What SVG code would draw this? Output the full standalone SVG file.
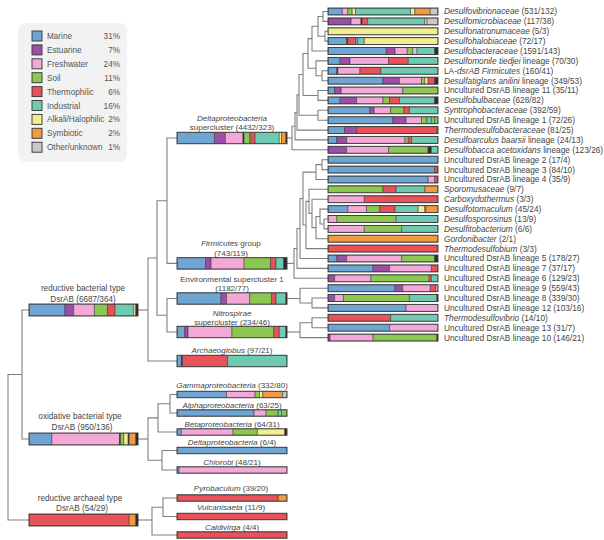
<svg xmlns="http://www.w3.org/2000/svg" width="604" height="540" viewBox="0 0 604 540">
<style>
.M{fill:#6ea5d3}.E{fill:#9d4fa8}.F{fill:#f4a8d8}.S{fill:#8cc751}.T{fill:#e8525a}.I{fill:#6fcab2}.A{fill:#f3ee8d}.Y{fill:#f29a3f}.O{fill:#c9c9c9}.K{fill:#2e2e2e}
.bar rect{height:1px;stroke:#333;stroke-width:0.5;vector-effect:non-scaling-stroke}
.ol{fill:none;stroke:#333;stroke-width:0.9}
.tree path{fill:none;stroke:#808080;stroke-width:1.1}
text{font-family:"Liberation Sans",Arial,sans-serif;fill:#444}
.r{font-size:8.3px}
.c{font-size:8px;text-anchor:middle}
.cl{font-size:8.2px;text-anchor:middle}
.lg{font-size:8.2px;fill:#555}
.pc{font-size:8.2px;fill:#555;text-anchor:end}
.it{font-style:italic}
</style>
<rect width="604" height="540" fill="#fff"/>

<g id="legend">
<rect x="18" y="23" width="109" height="139" rx="8" fill="#f2f2f2"/>
<rect class="ol" x="32" y="31" width="10" height="10" style="fill:#6ea5d3"/><text class="lg" x="47" y="39">Marine</text><text class="pc" x="120" y="39">31%</text>
<rect class="ol" x="32" y="44.9" width="10" height="10" style="fill:#9d4fa8"/><text class="lg" x="47" y="52.9">Estuarine</text><text class="pc" x="120" y="52.9">7%</text>
<rect class="ol" x="32" y="58.8" width="10" height="10" style="fill:#f4a8d8"/><text class="lg" x="47" y="66.8">Freshwater</text><text class="pc" x="120" y="66.8">24%</text>
<rect class="ol" x="32" y="72.7" width="10" height="10" style="fill:#8cc751"/><text class="lg" x="47" y="80.7">Soil</text><text class="pc" x="120" y="80.7">11%</text>
<rect class="ol" x="32" y="86.6" width="10" height="10" style="fill:#e8525a"/><text class="lg" x="47" y="94.6">Thermophilic</text><text class="pc" x="120" y="94.6">6%</text>
<rect class="ol" x="32" y="100.5" width="10" height="10" style="fill:#6fcab2"/><text class="lg" x="47" y="108.5">Industrial</text><text class="pc" x="120" y="108.5">16%</text>
<rect class="ol" x="32" y="114.4" width="10" height="10" style="fill:#f3ee8d"/><text class="lg" x="47" y="122.4">Alkali/Halophilic</text><text class="pc" x="120" y="122.4">2%</text>
<rect class="ol" x="32" y="128.3" width="10" height="10" style="fill:#f29a3f"/><text class="lg" x="47" y="136.3">Symbiotic</text><text class="pc" x="120" y="136.3">2%</text>
<rect class="ol" x="32" y="142.2" width="10" height="10" style="fill:#c9c9c9"/><text class="lg" x="47" y="150.2">Other/unknown</text><text class="pc" x="120" y="150.2">1%</text>
</g>

<g id="connectors" class="tree">
<path d="M328 11.5H323V21.4H328"/>
<path d="M328 31.3H325V41.1H328"/>
<path d="M323 16.45H318V36.2H325"/>
<path d="M318 26.3H312V51H328"/>
<path d="M328 70.8H322V80.7H328"/>
<path d="M328 60.9H316V75.75H322"/>
<path d="M312 38.65H308V68.3H316"/>
<path d="M328 90.5H318V100.4H328"/>
<path d="M308 53.5H303V95.45H318"/>
<path d="M328 110.3H318V120.2H328"/>
<path d="M303 74.5H299V115.25H318"/>
<path d="M299 94.9H297V130.1H328"/>
<path d="M297 112.5H295V139.9H328"/>
<path d="M295 126.2H292V149.8H328"/>
<path d="M287 138H292"/>
<path d="M328 159.7H322V169.6H328"/>
<path d="M322 164.65H316V179.5H328"/>
<path d="M328 219H324V228.9H328"/>
<path d="M328 209.1H320V223.95H324"/>
<path d="M320 216.53H316V238.7H328"/>
<path d="M328 199.2H312V227.6H316"/>
<path d="M328 189.3H309V213.4H312"/>
<path d="M309 201.35H306V248.6H328"/>
<path d="M316 172.08H303V224.98H306"/>
<path d="M303 198.53H300V258.5H328"/>
<path d="M300 228.5H297V268.4H328"/>
<path d="M297 248.45H294V278.3H328"/>
<path d="M287 263.4H294"/>
<path d="M328 298H312V307.9H328"/>
<path d="M328 288.2H300V302.95H312"/>
<path d="M287 298.5H300"/>
<path d="M328 317.8H312V327.7H328"/>
<path d="M312 322.75H300V337.6H328"/>
<path d="M287 332H300"/>
<path d="M177 138H167V263.4H177"/>
<path d="M177 298.5H167V332H177"/>
<path d="M167 200.7H157V315.25H167"/>
<path d="M157 258H148V361H177"/>
<path d="M138 310H148"/>
<path d="M177 394.5H170V413H177"/>
<path d="M170 403.75H158V432H177"/>
<path d="M177 450.5H162V470H177"/>
<path d="M158 417.9H148V460.25H162"/>
<path d="M138 439H148"/>
<path d="M177 498H163V516.5H177"/>
<path d="M163 507.25H152V535H177"/>
<path d="M138 520H152"/>
<path d="M29 310H22V439H29"/>
<path d="M22 374.5H8V520H29"/>
</g>

<g id="r1"><svg class="bar" x="328" y="8" width="110" height="7" viewBox="0 0 100 1" preserveAspectRatio="none"><rect class="M" x="0" width="13"/><rect class="F" x="13" width="5"/><rect class="S" x="18" width="4"/><rect class="A" x="22" width="3"/><rect class="I" x="25" width="50"/><rect class="A" x="75" width="4"/><rect class="Y" x="79" width="14"/><rect class="O" x="93" width="7"/></svg><rect class="ol" x="328" y="8" width="110" height="7"/><text class="r" x="444" y="14.4"><tspan class="it">Desulfovibrionaceae</tspan> (531/132)</text></g>
<g id="r2"><svg class="bar" x="328" y="17.9" width="110" height="7" viewBox="0 0 100 1" preserveAspectRatio="none"><rect class="E" x="0" width="21"/><rect class="F" x="21" width="9"/><rect class="K" x="30" width="1"/><rect class="T" x="31" width="5"/><rect class="I" x="36" width="52"/><rect class="A" x="88" width="2"/><rect class="O" x="90" width="10"/></svg><rect class="ol" x="328" y="17.9" width="110" height="7"/><text class="r" x="444" y="24.3"><tspan class="it">Desulfomicrobiaceae</tspan> (117/38)</text></g>
<g id="r3"><svg class="bar" x="328" y="27.8" width="110" height="7" viewBox="0 0 100 1" preserveAspectRatio="none"><rect class="A" x="0" width="100"/></svg><rect class="ol" x="328" y="27.8" width="110" height="7"/><text class="r" x="444" y="34.2"><tspan class="it">Desulfonatronumaceae</tspan> (5/3)</text></g>
<g id="r4"><svg class="bar" x="328" y="37.6" width="110" height="7" viewBox="0 0 100 1" preserveAspectRatio="none"><rect class="M" x="0" width="17"/><rect class="K" x="17" width="1"/><rect class="T" x="18" width="7"/><rect class="M" x="25" width="2"/><rect class="I" x="27" width="6"/><rect class="A" x="33" width="67"/></svg><rect class="ol" x="328" y="37.6" width="110" height="7"/><text class="r" x="444" y="44"><tspan class="it">Desulfohalobiaceae</tspan> (72/17)</text></g>
<g id="r5"><svg class="bar" x="328" y="47.5" width="110" height="7" viewBox="0 0 100 1" preserveAspectRatio="none"><rect class="M" x="0" width="53"/><rect class="E" x="53" width="8"/><rect class="F" x="61" width="11"/><rect class="S" x="72" width="5"/><rect class="O" x="77" width="4"/><rect class="I" x="81" width="16"/><rect class="K" x="97" width="3"/></svg><rect class="ol" x="328" y="47.5" width="110" height="7"/><text class="r" x="444" y="53.9"><tspan class="it">Desulfobacteraceae</tspan> (1591/143)</text></g>
<g id="r6"><svg class="bar" x="328" y="57.4" width="110" height="7" viewBox="0 0 100 1" preserveAspectRatio="none"><rect class="M" x="0" width="11"/><rect class="E" x="11" width="9"/><rect class="F" x="20" width="35"/><rect class="T" x="55" width="18"/><rect class="I" x="73" width="27"/></svg><rect class="ol" x="328" y="57.4" width="110" height="7"/><text class="r" x="444" y="63.8"><tspan class="it">Desulfomonile tiedjei</tspan> lineage (70/30)</text></g>
<g id="r7"><svg class="bar" x="328" y="67.3" width="110" height="7" viewBox="0 0 100 1" preserveAspectRatio="none"><rect class="M" x="0" width="8"/><rect class="K" x="8" width="1"/><rect class="F" x="9" width="20"/><rect class="T" x="29" width="19"/><rect class="I" x="48" width="52"/></svg><rect class="ol" x="328" y="67.3" width="110" height="7"/><text class="r" x="444" y="73.7">LA-<tspan class="it">dsrAB Firmicutes</tspan> (160/41)</text></g>
<g id="r8"><svg class="bar" x="328" y="77.2" width="110" height="7" viewBox="0 0 100 1" preserveAspectRatio="none"><rect class="M" x="0" width="50"/><rect class="E" x="50" width="15"/><rect class="F" x="65" width="20"/><rect class="S" x="85" width="3"/><rect class="A" x="88" width="3"/><rect class="T" x="91" width="6"/><rect class="K" x="97" width="3"/></svg><rect class="ol" x="328" y="77.2" width="110" height="7"/><text class="r" x="444" y="83.6"><tspan class="it">Desulfatiglans anilini</tspan> lineage (349/53)</text></g>
<g id="r9"><svg class="bar" x="328" y="87" width="110" height="7" viewBox="0 0 100 1" preserveAspectRatio="none"><rect class="M" x="0" width="6"/><rect class="E" x="6" width="6"/><rect class="F" x="12" width="56"/><rect class="S" x="68" width="32"/></svg><rect class="ol" x="328" y="87" width="110" height="7"/><text class="r" x="444" y="93.4">Uncultured DsrAB lineage 11 (35/11)</text></g>
<g id="r10"><svg class="bar" x="328" y="96.9" width="110" height="7" viewBox="0 0 100 1" preserveAspectRatio="none"><rect class="M" x="0" width="11"/><rect class="E" x="11" width="15"/><rect class="F" x="26" width="24"/><rect class="S" x="50" width="6"/><rect class="T" x="56" width="9"/><rect class="I" x="65" width="32"/><rect class="K" x="97" width="3"/></svg><rect class="ol" x="328" y="96.9" width="110" height="7"/><text class="r" x="444" y="103.3"><tspan class="it">Desulfobulbaceae</tspan> (628/82)</text></g>
<g id="r11"><svg class="bar" x="328" y="106.8" width="110" height="7" viewBox="0 0 100 1" preserveAspectRatio="none"><rect class="M" x="0" width="38"/><rect class="E" x="38" width="4"/><rect class="F" x="42" width="15"/><rect class="S" x="57" width="12"/><rect class="T" x="69" width="5"/><rect class="I" x="74" width="26"/></svg><rect class="ol" x="328" y="106.8" width="110" height="7"/><text class="r" x="444" y="113.2"><tspan class="it">Syntrophobacteraceae</tspan> (392/59)</text></g>
<g id="r12"><svg class="bar" x="328" y="116.7" width="110" height="7" viewBox="0 0 100 1" preserveAspectRatio="none"><rect class="M" x="0" width="59"/><rect class="E" x="59" width="12"/><rect class="F" x="71" width="14"/><rect class="S" x="85" width="5"/><rect class="I" x="90" width="4"/><rect class="S" x="94" width="3"/><rect class="I" x="97" width="3"/></svg><rect class="ol" x="328" y="116.7" width="110" height="7"/><text class="r" x="444" y="123.1">Uncultured DsrAB lineage 1 (72/26)</text></g>
<g id="r13"><svg class="bar" x="328" y="126.6" width="110" height="7" viewBox="0 0 100 1" preserveAspectRatio="none"><rect class="M" x="0" width="15"/><rect class="E" x="15" width="11"/><rect class="T" x="26" width="73"/><rect class="Y" x="99" width="1"/></svg><rect class="ol" x="328" y="126.6" width="110" height="7"/><text class="r" x="444" y="133"><tspan class="it">Thermodesulfobacteraceae</tspan> (81/25)</text></g>
<g id="r14"><svg class="bar" x="328" y="136.4" width="110" height="7" viewBox="0 0 100 1" preserveAspectRatio="none"><rect class="M" x="0" width="8"/><rect class="E" x="8" width="9"/><rect class="F" x="17" width="53"/><rect class="S" x="70" width="3"/><rect class="T" x="73" width="3"/><rect class="I" x="76" width="24"/></svg><rect class="ol" x="328" y="136.4" width="110" height="7"/><text class="r" x="444" y="142.8"><tspan class="it">Desulfoarculus baarsii</tspan> lineage (24/13)</text></g>
<g id="r15"><svg class="bar" x="328" y="146.3" width="110" height="7" viewBox="0 0 100 1" preserveAspectRatio="none"><rect class="E" x="0" width="17"/><rect class="F" x="17" width="38"/><rect class="S" x="55" width="36"/><rect class="K" x="91" width="3"/><rect class="I" x="94" width="6"/></svg><rect class="ol" x="328" y="146.3" width="110" height="7"/><text class="r" x="444" y="152.7"><tspan class="it">Desulfobacca acetoxidans</tspan> lineage (123/26)</text></g>
<g id="r16"><svg class="bar" x="328" y="156.2" width="110" height="7" viewBox="0 0 100 1" preserveAspectRatio="none"><rect class="M" x="0" width="100"/></svg><rect class="ol" x="328" y="156.2" width="110" height="7"/><text class="r" x="444" y="162.6">Uncultured DsrAB lineage 2 (17/4)</text></g>
<g id="r17"><svg class="bar" x="328" y="166.1" width="110" height="7" viewBox="0 0 100 1" preserveAspectRatio="none"><rect class="M" x="0" width="97"/><rect class="T" x="97" width="3"/></svg><rect class="ol" x="328" y="166.1" width="110" height="7"/><text class="r" x="444" y="172.5">Uncultured DsrAB lineage 3 (84/10)</text></g>
<g id="r18"><svg class="bar" x="328" y="176" width="110" height="7" viewBox="0 0 100 1" preserveAspectRatio="none"><rect class="M" x="0" width="91"/><rect class="F" x="91" width="6"/><rect class="T" x="97" width="3"/></svg><rect class="ol" x="328" y="176" width="110" height="7"/><text class="r" x="444" y="182.4">Uncultured DsrAB lineage 4 (35/9)</text></g>
<g id="r19"><svg class="bar" x="328" y="185.8" width="110" height="7" viewBox="0 0 100 1" preserveAspectRatio="none"><rect class="S" x="0" width="50"/><rect class="T" x="50" width="12"/><rect class="I" x="62" width="26"/><rect class="Y" x="88" width="12"/></svg><rect class="ol" x="328" y="185.8" width="110" height="7"/><text class="r" x="444" y="192.2"><tspan class="it">Sporomusaceae</tspan> (9/7)</text></g>
<g id="r20"><svg class="bar" x="328" y="195.7" width="110" height="7" viewBox="0 0 100 1" preserveAspectRatio="none"><rect class="F" x="0" width="33"/><rect class="T" x="33" width="67"/></svg><rect class="ol" x="328" y="195.7" width="110" height="7"/><text class="r" x="444" y="202.1"><tspan class="it">Carboxydothermus</tspan> (3/3)</text></g>
<g id="r21"><svg class="bar" x="328" y="205.6" width="110" height="7" viewBox="0 0 100 1" preserveAspectRatio="none"><rect class="M" x="0" width="18"/><rect class="F" x="18" width="17"/><rect class="S" x="35" width="12"/><rect class="T" x="47" width="14"/><rect class="I" x="61" width="21"/><rect class="A" x="82" width="6"/><rect class="I" x="88" width="1"/><rect class="Y" x="89" width="11"/></svg><rect class="ol" x="328" y="205.6" width="110" height="7"/><text class="r" x="444" y="212"><tspan class="it">Desulfotomaculum</tspan> (45/24)</text></g>
<g id="r22"><svg class="bar" x="328" y="215.5" width="110" height="7" viewBox="0 0 100 1" preserveAspectRatio="none"><rect class="F" x="0" width="8"/><rect class="S" x="8" width="54"/><rect class="I" x="62" width="38"/></svg><rect class="ol" x="328" y="215.5" width="110" height="7"/><text class="r" x="444" y="221.9"><tspan class="it">Desulfosporosinus</tspan> (13/9)</text></g>
<g id="r23"><svg class="bar" x="328" y="225.4" width="110" height="7" viewBox="0 0 100 1" preserveAspectRatio="none"><rect class="F" x="0" width="33"/><rect class="S" x="33" width="34"/><rect class="I" x="67" width="33"/></svg><rect class="ol" x="328" y="225.4" width="110" height="7"/><text class="r" x="444" y="231.8"><tspan class="it">Desulfitobacterium</tspan> (6/6)</text></g>
<g id="r24"><svg class="bar" x="328" y="235.2" width="110" height="7" viewBox="0 0 100 1" preserveAspectRatio="none"><rect class="Y" x="0" width="100"/></svg><rect class="ol" x="328" y="235.2" width="110" height="7"/><text class="r" x="444" y="241.6"><tspan class="it">Gordonibacter</tspan> (2/1)</text></g>
<g id="r25"><svg class="bar" x="328" y="245.1" width="110" height="7" viewBox="0 0 100 1" preserveAspectRatio="none"><rect class="T" x="0" width="100"/></svg><rect class="ol" x="328" y="245.1" width="110" height="7"/><text class="r" x="444" y="251.5"><tspan class="it">Thermodesulfobium</tspan> (3/3)</text></g>
<g id="r26"><svg class="bar" x="328" y="255" width="110" height="7" viewBox="0 0 100 1" preserveAspectRatio="none"><rect class="M" x="0" width="8"/><rect class="E" x="8" width="9"/><rect class="F" x="17" width="50"/><rect class="S" x="67" width="30"/><rect class="K" x="97" width="3"/></svg><rect class="ol" x="328" y="255" width="110" height="7"/><text class="r" x="444" y="261.4">Uncultured DsrAB lineage 5 (178/27)</text></g>
<g id="r27"><svg class="bar" x="328" y="264.9" width="110" height="7" viewBox="0 0 100 1" preserveAspectRatio="none"><rect class="M" x="0" width="41"/><rect class="E" x="41" width="15"/><rect class="F" x="56" width="38"/><rect class="T" x="94" width="6"/></svg><rect class="ol" x="328" y="264.9" width="110" height="7"/><text class="r" x="444" y="271.3">Uncultured DsrAB lineage 7 (37/17)</text></g>
<g id="r28"><svg class="bar" x="328" y="274.8" width="110" height="7" viewBox="0 0 100 1" preserveAspectRatio="none"><rect class="E" x="0" width="6"/><rect class="F" x="6" width="33"/><rect class="S" x="39" width="53"/><rect class="T" x="92" width="2"/><rect class="I" x="94" width="6"/></svg><rect class="ol" x="328" y="274.8" width="110" height="7"/><text class="r" x="444" y="281.2">Uncultured DsrAB lineage 6 (129/23)</text></g>
<g id="r29"><svg class="bar" x="328" y="284.7" width="110" height="7" viewBox="0 0 100 1" preserveAspectRatio="none"><rect class="M" x="0" width="61"/><rect class="E" x="61" width="7"/><rect class="F" x="68" width="25"/><rect class="T" x="93" width="5"/><rect class="F" x="98" width="2"/></svg><rect class="ol" x="328" y="284.7" width="110" height="7"/><text class="r" x="444" y="291.1">Uncultured DsrAB lineage 9 (559/43)</text></g>
<g id="r30"><svg class="bar" x="328" y="294.5" width="110" height="7" viewBox="0 0 100 1" preserveAspectRatio="none"><rect class="E" x="0" width="6"/><rect class="F" x="6" width="8"/><rect class="S" x="14" width="60"/><rect class="I" x="74" width="25"/><rect class="K" x="99" width="1"/></svg><rect class="ol" x="328" y="294.5" width="110" height="7"/><text class="r" x="444" y="300.9">Uncultured DsrAB lineage 8 (339/30)</text></g>
<g id="r31"><svg class="bar" x="328" y="304.4" width="110" height="7" viewBox="0 0 100 1" preserveAspectRatio="none"><rect class="M" x="0" width="71"/><rect class="F" x="71" width="29"/></svg><rect class="ol" x="328" y="304.4" width="110" height="7"/><text class="r" x="444" y="310.8">Uncultured DsrAB lineage 12 (103/16)</text></g>
<g id="r32"><svg class="bar" x="328" y="314.3" width="110" height="7" viewBox="0 0 100 1" preserveAspectRatio="none"><rect class="T" x="0" width="57"/><rect class="I" x="57" width="43"/></svg><rect class="ol" x="328" y="314.3" width="110" height="7"/><text class="r" x="444" y="320.7"><tspan class="it">Thermodesulfovibrio</tspan> (14/10)</text></g>
<g id="r33"><svg class="bar" x="328" y="324.2" width="110" height="7" viewBox="0 0 100 1" preserveAspectRatio="none"><rect class="M" x="0" width="56"/><rect class="F" x="56" width="44"/></svg><rect class="ol" x="328" y="324.2" width="110" height="7"/><text class="r" x="444" y="330.6">Uncultured DsrAB lineage 13 (31/7)</text></g>
<g id="r34"><svg class="bar" x="328" y="334.1" width="110" height="7" viewBox="0 0 100 1" preserveAspectRatio="none"><rect class="E" x="0" width="2"/><rect class="F" x="2" width="39"/><rect class="S" x="41" width="58"/><rect class="K" x="99" width="1"/></svg><rect class="ol" x="328" y="334.1" width="110" height="7"/><text class="r" x="444" y="340.5">Uncultured DsrAB lineage 10 (146/21)</text></g>

<g id="delta-supercluster"><text class="c it" x="232" y="120.5">Deltaproteobacteria</text><text class="c" x="232" y="129.8">supercluster (4432/323)</text><svg class="bar" x="177" y="132.25" width="110" height="11.5" viewBox="0 0 100 1" preserveAspectRatio="none"><rect class="M" x="0" width="34"/><rect class="E" x="34" width="10"/><rect class="F" x="44" width="16"/><rect class="K" x="60" width="1"/><rect class="S" x="61" width="5"/><rect class="A" x="66" width="1"/><rect class="T" x="67" width="4"/><rect class="I" x="71" width="22"/><rect class="A" x="93" width="2"/><rect class="Y" x="95" width="4"/><rect class="K" x="99" width="1"/></svg><rect class="ol" x="177" y="132.25" width="110" height="11.5"/></g>
<g id="firmicutes"><text class="c" x="231" y="245.5"><tspan class="it">Firmicutes</tspan> group</text><text class="c" x="231" y="255.5">(743/119)</text><svg class="bar" x="177" y="257.65" width="110" height="11.5" viewBox="0 0 100 1" preserveAspectRatio="none"><rect class="M" x="0" width="26"/><rect class="E" x="26" width="5"/><rect class="F" x="31" width="30"/><rect class="S" x="61" width="24"/><rect class="T" x="85" width="5"/><rect class="I" x="90" width="7"/><rect class="K" x="97" width="3"/></svg><rect class="ol" x="177" y="257.65" width="110" height="11.5"/></g>
<g id="environmental"><text class="c" x="232" y="281.5">Environmental supercluster 1</text><text class="c" x="232" y="291">(1182/77)</text><svg class="bar" x="177" y="292.75" width="110" height="11.5" viewBox="0 0 100 1" preserveAspectRatio="none"><rect class="M" x="0" width="40"/><rect class="E" x="40" width="5"/><rect class="F" x="45" width="21"/><rect class="S" x="66" width="20"/><rect class="T" x="86" width="4"/><rect class="I" x="90" width="9"/><rect class="K" x="99" width="1"/></svg><rect class="ol" x="177" y="292.75" width="110" height="11.5"/></g>
<g id="nitrospirae"><text class="c it" x="232" y="316">Nitrospirae</text><text class="c" x="232" y="325">supercluster (234/46)</text><svg class="bar" x="177" y="326.25" width="110" height="11.5" viewBox="0 0 100 1" preserveAspectRatio="none"><rect class="M" x="0" width="7"/><rect class="E" x="7" width="3"/><rect class="F" x="10" width="40"/><rect class="S" x="50" width="38"/><rect class="T" x="88" width="5"/><rect class="I" x="93" width="6"/><rect class="K" x="99" width="1"/></svg><rect class="ol" x="177" y="326.25" width="110" height="11.5"/></g>
<g id="archaeoglobus"><text class="c" x="232" y="352.5"><tspan class="it">Archaeoglobus</tspan> (97/21)</text><svg class="bar" x="177" y="355.25" width="110" height="11.5" viewBox="0 0 100 1" preserveAspectRatio="none"><rect class="M" x="0" width="4"/><rect class="K" x="4" width="1"/><rect class="T" x="5" width="41"/><rect class="I" x="46" width="54"/></svg><rect class="ol" x="177" y="355.25" width="110" height="11.5"/></g>

<g id="reductive-bacterial"><text class="cl" x="83" y="291">reductive bacterial type</text><text class="cl" x="83" y="301.5">DsrAB (6687/364)</text><svg class="bar" x="29" y="304" width="109" height="12" viewBox="0 0 100 1" preserveAspectRatio="none"><rect class="M" x="0" width="33"/><rect class="E" x="33" width="8"/><rect class="F" x="41" width="19"/><rect class="S" x="60" width="12"/><rect class="T" x="72" width="7"/><rect class="I" x="79" width="17"/><rect class="A" x="96" width="2"/><rect class="K" x="98" width="2"/></svg><rect class="ol" x="29" y="304" width="109" height="12"/></g>
<g id="oxidative-bacterial"><text class="cl" x="80" y="419">oxidative bacterial type</text><text class="cl" x="82" y="429.5">DsrAB (950/136)</text><svg class="bar" x="29" y="433" width="109" height="12" viewBox="0 0 100 1" preserveAspectRatio="none"><rect class="M" x="0" width="21"/><rect class="F" x="21" width="62"/><rect class="K" x="83" width="1"/><rect class="S" x="84" width="3"/><rect class="A" x="87" width="4"/><rect class="K" x="91" width="1"/><rect class="Y" x="92" width="6"/><rect class="K" x="98" width="2"/></svg><rect class="ol" x="29" y="433" width="109" height="12"/></g>
<g id="reductive-archaeal"><text class="cl" x="80" y="501">reductive archaeal type</text><text class="cl" x="82" y="511">DsrAB (54/29)</text><svg class="bar" x="29" y="514" width="109" height="12" viewBox="0 0 100 1" preserveAspectRatio="none"><rect class="T" x="0" width="92"/><rect class="Y" x="92" width="6"/><rect class="K" x="98" width="2"/></svg><rect class="ol" x="29" y="514" width="109" height="12"/></g>

<g id="gamma"><text class="c" x="232" y="388"><tspan class="it">Gammaproteobacteria</tspan> (332/80)</text><svg class="bar" x="177" y="391.25" width="110" height="6.5" viewBox="0 0 100 1" preserveAspectRatio="none"><rect class="M" x="0" width="45"/><rect class="F" x="45" width="26"/><rect class="S" x="71" width="4"/><rect class="A" x="75" width="3"/><rect class="Y" x="78" width="18"/><rect class="O" x="96" width="4"/></svg><rect class="ol" x="177" y="391.25" width="110" height="6.5"/></g>
<g id="alpha"><text class="c" x="232" y="407.5"><tspan class="it">Alphaproteobacteria</tspan> (63/25)</text><svg class="bar" x="177" y="409.75" width="110" height="6.5" viewBox="0 0 100 1" preserveAspectRatio="none"><rect class="M" x="0" width="70"/><rect class="F" x="70" width="11"/><rect class="S" x="81" width="11"/><rect class="I" x="92" width="3"/><rect class="S" x="95" width="5"/></svg><rect class="ol" x="177" y="409.75" width="110" height="6.5"/></g>
<g id="beta"><text class="c" x="232" y="426.5"><tspan class="it">Betaproteobacteria</tspan> (64/31)</text><svg class="bar" x="177" y="428.75" width="110" height="6.5" viewBox="0 0 100 1" preserveAspectRatio="none"><rect class="M" x="0" width="4"/><rect class="F" x="4" width="47"/><rect class="S" x="51" width="22"/><rect class="A" x="73" width="25"/><rect class="K" x="98" width="2"/></svg><rect class="ol" x="177" y="428.75" width="110" height="6.5"/></g>
<g id="delta"><text class="c" x="232" y="445"><tspan class="it">Deltaproteobacteria</tspan> (6/4)</text><svg class="bar" x="177" y="447.25" width="110" height="6.5" viewBox="0 0 100 1" preserveAspectRatio="none"><rect class="M" x="0" width="100"/></svg><rect class="ol" x="177" y="447.25" width="110" height="6.5"/></g>
<g id="chlorobi"><text class="c" x="232" y="464.5"><tspan class="it">Chlorobi</tspan> (48/21)</text><svg class="bar" x="177" y="466.75" width="110" height="6.5" viewBox="0 0 100 1" preserveAspectRatio="none"><rect class="M" x="0" width="2"/><rect class="F" x="2" width="98"/></svg><rect class="ol" x="177" y="466.75" width="110" height="6.5"/></g>
<g id="pyrobaculum"><text class="c" x="231" y="491"><tspan class="it">Pyrobaculum</tspan> (39/20)</text><svg class="bar" x="177" y="494.75" width="110" height="6.5" viewBox="0 0 100 1" preserveAspectRatio="none"><rect class="T" x="0" width="92"/><rect class="Y" x="92" width="8"/></svg><rect class="ol" x="177" y="494.75" width="110" height="6.5"/></g>
<g id="vulcanisaeta"><text class="c" x="231" y="509.5"><tspan class="it">Vulcanisaeta</tspan> (11/9)</text><svg class="bar" x="177" y="513.25" width="110" height="6.5" viewBox="0 0 100 1" preserveAspectRatio="none"><rect class="T" x="0" width="100"/></svg><rect class="ol" x="177" y="513.25" width="110" height="6.5"/></g>
<g id="caldivirga"><text class="c" x="232" y="529.5"><tspan class="it">Caldivirga</tspan> (4/4)</text><svg class="bar" x="177" y="531.75" width="110" height="6.5" viewBox="0 0 100 1" preserveAspectRatio="none"><rect class="T" x="0" width="100"/></svg><rect class="ol" x="177" y="531.75" width="110" height="6.5"/></g>
</svg>
